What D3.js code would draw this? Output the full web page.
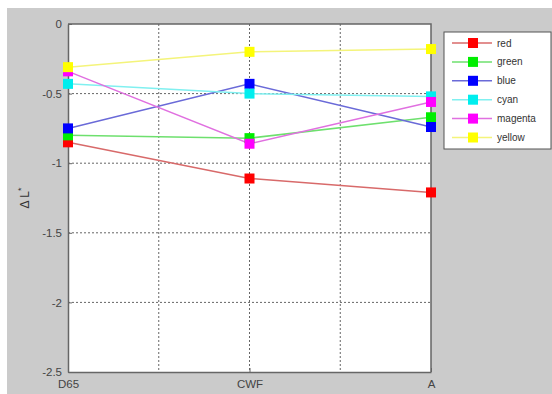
<!DOCTYPE html>
<html>
<head>
<meta charset="utf-8">
<script src="https://cdn.jsdelivr.net/npm/d3@7"></script>
<style>
  body { margin: 0; background: #fff; }
  svg { display: block; font-family: "Liberation Sans", Arial, sans-serif; }
</style>
</head>
<body>
<svg id="chart" width="552" height="394"></svg>
<script>
// illuminants on the x axis
const illuminants = ["D65", "CWF", "A"];
const yTicks = [0, -0.5, -1, -1.5, -2, -2.5];

// delta L* per colour patch
const red     = [-0.85, -1.11, -1.21];
const green   = [-0.80, -0.82, -0.67];
const blue    = [-0.75, -0.43, -0.74];
const cyan    = [-0.43, -0.50, -0.52];
const magenta = [-0.34, -0.86, -0.56];
const yellow  = [-0.31, -0.20, -0.18];

const seriesNames = ["red", "green", "blue", "cyan", "magenta", "yellow"];
const seriesValues = [red, green, blue, cyan, magenta, yellow];

// marker colour, line colour
const markerColors = ["#ff0000", "#00ee00", "#0000ff", "#00eeee", "#ff00ff", "#ffff00"];
const lineColors = ["#d86a6a", "#6ee06e", "#6a6ad8", "#80f0f0", "#e070e0", "#f4f47a"];

const svg = d3.select("#chart");

// grey figure background
svg.append("rect")
    .attr("x", 7).attr("y", 8)
    .attr("width", 545).attr("height", 386)
    .attr("fill", "#cbcbcb");

const margin = { top: 24, left: 68 };
const width = 363, height = 348;

const g = svg.append("g")
    .attr("transform", "translate(" + margin.left + "," + margin.top + ")");

const x = d3.scaleLinear().domain([0, 2]).range([0, width]);
const y = d3.scaleLinear().domain([-2.5, 0]).range([height, 0]);

g.append("rect")
    .attr("width", width).attr("height", height)
    .attr("fill", "#fff");

// dotted grid
g.append("g")
    .selectAll("line")
    .data([0.5, 1, 1.5])
    .join("line")
    .attr("x1", d => x(d)).attr("x2", d => x(d))
    .attr("y1", 0).attr("y2", height)
    .attr("stroke", "#666").attr("stroke-width", 1)
    .attr("stroke-dasharray", "2,2");

g.append("g")
    .selectAll("line")
    .data([-0.5, -1, -1.5, -2])
    .join("line")
    .attr("x1", 0).attr("x2", width)
    .attr("y1", d => y(d)).attr("y2", d => y(d))
    .attr("stroke", "#666").attr("stroke-width", 1)
    .attr("stroke-dasharray", "2,2");

// axes
const xAxis = g.append("g")
    .attr("transform", "translate(0," + height + ")")
    .call(d3.axisBottom(x).tickValues([0, 1, 2]).tickFormat(d => illuminants[d]).tickSizeInner(-4).tickSizeOuter(0).tickPadding(8));
const yAxis = g.append("g")
    .call(d3.axisLeft(y).tickValues(yTicks).tickFormat(d => d === 0 ? "0" : String(d)).tickSizeInner(-4).tickSizeOuter(0).tickPadding(6));

[xAxis, yAxis].forEach(a => {
    a.select(".domain").attr("stroke", "#666").attr("stroke-width", 1.5);
    a.selectAll(".tick line").attr("stroke", "#666");
    a.selectAll("text").attr("fill", "#444").attr("font-size", 11.5);
});

// top and right box edges
g.append("path")
    .attr("d", "M0,0H" + width + "V" + height)
    .attr("fill", "none").attr("stroke", "#666").attr("stroke-width", 1.5);

// y label, asterisk raised
const ylab = svg.append("text")
    .attr("transform", "translate(29,198) rotate(-90)")
    .attr("text-anchor", "middle")
    .attr("fill", "#333").attr("font-size", 12);
ylab.append("tspan").text("\u0394 L");
ylab.append("tspan").attr("dy", -5).attr("font-size", 9).text("*");

const line = d3.line()
    .x((d, i) => x(i))
    .y(d => y(d));

seriesValues.forEach((vals, k) => {
    g.append("path")
        .datum(vals)
        .attr("fill", "none")
        .attr("stroke", lineColors[k])
        .attr("stroke-width", 1.5)
        .attr("d", line);
});
seriesValues.forEach((vals, k) => {
    g.append("g")
        .selectAll("rect")
        .data(vals)
        .join("rect")
        .attr("x", (d, i) => x(i) - 5)
        .attr("y", d => y(d) - 5)
        .attr("width", 10).attr("height", 10)
        .attr("fill", markerColors[k]);
});

// legend
const legend = svg.append("g").attr("transform", "translate(444,32)");
legend.append("rect")
    .attr("width", 107).attr("height", 117)
    .attr("fill", "#fff").attr("stroke", "#555").attr("stroke-width", 1);

const items = legend.selectAll(".item")
    .data(seriesNames)
    .join("g")
    .attr("class", "item")
    .attr("transform", (d, i) => "translate(0," + (11 + i * 18.9) + ")");
items.append("line")
    .attr("x1", 8).attr("x2", 48)
    .attr("stroke", (d, i) => lineColors[i]).attr("stroke-width", 1.5);
items.append("rect")
    .attr("x", 24).attr("y", -5)
    .attr("width", 10).attr("height", 10)
    .attr("fill", (d, i) => markerColors[i]);
items.append("text")
    .attr("x", 53).attr("dy", "0.35em")
    .attr("fill", "#333").attr("font-size", 10)
    .text(d => d);
</script>
</body>
</html>
